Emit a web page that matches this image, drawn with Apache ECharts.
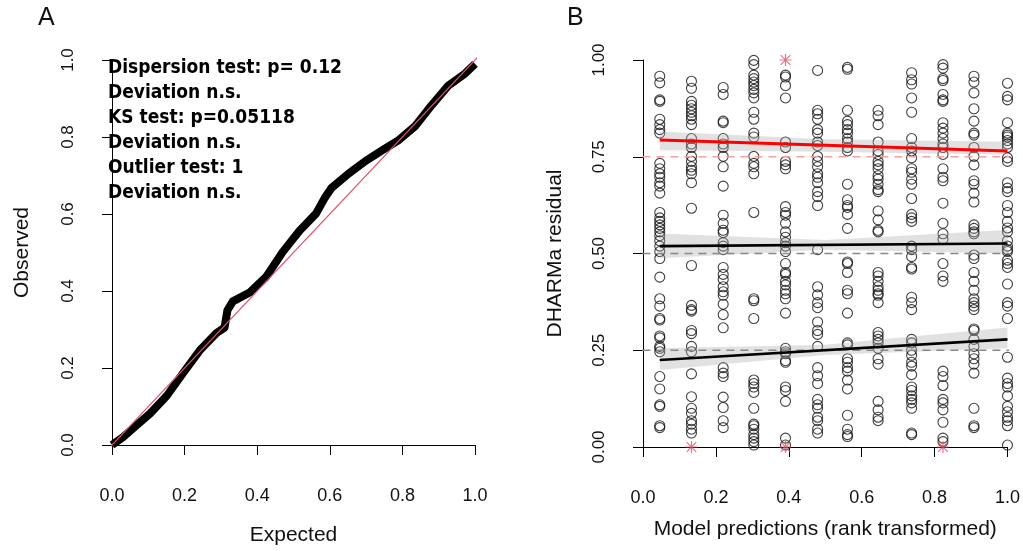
<!DOCTYPE html>
<html>
<head>
<meta charset="utf-8">
<title>DHARMa residual diagnostics</title>
<script src="https://cdn.jsdelivr.net/npm/echarts@6/dist/echarts.min.js"></script>
<style>
  html, body { margin: 0; padding: 0; background: #fff; }
  #main { width: 1023px; height: 551px; }
</style>
</head>
<body>
<div id="main"></div>
<script>
// ---- panel A: QQ plot ----
const qqExpected = [0.0, 0.03, 0.059, 0.105, 0.151, 0.196, 0.242, 0.288, 0.31, 0.318, 0.333, 0.379, 0.425, 0.47, 0.516, 0.562, 0.585, 0.605, 0.653, 0.699, 0.744, 0.79, 0.836, 0.881, 0.927, 0.973, 1.0]
const qqObserved = [0.0, 0.02, 0.044, 0.082, 0.128, 0.187, 0.246, 0.291, 0.305, 0.35, 0.373, 0.396, 0.437, 0.501, 0.556, 0.601, 0.64, 0.668, 0.706, 0.738, 0.765, 0.792, 0.829, 0.883, 0.934, 0.965, 0.99]
const qqTicks = [0, 0.2, 0.4, 0.6, 0.8, 1.0]
const statLines = ['Dispersion test: p= 0.12', 'Deviation n.s.', 'KS test: p=0.05118', 'Deviation n.s.', 'Outlier test: 1', 'Deviation n.s.']

// ---- panel B: residuals vs rank transformed predictions ----
const rankX = [0.046, 0.133, 0.220, 0.304, 0.391, 0.479, 0.561, 0.645, 0.737, 0.823, 0.908, 1.0]
const res01 = [0.958, 0.941, 0.897, 0.893, 0.847, 0.833, 0.820, 0.811, 0.733, 0.719, 0.706, 0.697, 0.683, 0.674, 0.656, 0.606, 0.592, 0.583, 0.574, 0.565, 0.556, 0.546, 0.533, 0.519, 0.505, 0.487, 0.439, 0.383, 0.364, 0.332, 0.328, 0.287, 0.282, 0.260, 0.255, 0.246, 0.182, 0.150, 0.109, 0.105, 0.055, 0.050]
const res02 = [0.945, 0.927, 0.893, 0.883, 0.874, 0.865, 0.856, 0.847, 0.833, 0.797, 0.783, 0.774, 0.751, 0.738, 0.724, 0.715, 0.706, 0.683, 0.617, 0.469, 0.366, 0.355, 0.351, 0.301, 0.293, 0.260, 0.246, 0.189, 0.130, 0.100, 0.087, 0.068, 0.059, 0.046, 0.036]
const res03 = [0.929, 0.911, 0.842, 0.838, 0.797, 0.783, 0.774, 0.751, 0.724, 0.674, 0.599, 0.578, 0.560, 0.554, 0.528, 0.519, 0.510, 0.464, 0.446, 0.433, 0.414, 0.401, 0.392, 0.369, 0.342, 0.308, 0.205, 0.191, 0.182, 0.129, 0.102, 0.068, 0.050]
const res04 = [0.999, 0.988, 0.961, 0.952, 0.943, 0.934, 0.924, 0.915, 0.902, 0.865, 0.847, 0.811, 0.801, 0.751, 0.733, 0.724, 0.706, 0.606, 0.383, 0.378, 0.332, 0.173, 0.164, 0.155, 0.141, 0.100, 0.059, 0.055, 0.046, 0.032, 0.023, 0.014, 0.005]
const res05 = [0.961, 0.956, 0.934, 0.902, 0.788, 0.774, 0.738, 0.729, 0.719, 0.621, 0.606, 0.599, 0.578, 0.556, 0.542, 0.528, 0.519, 0.505, 0.474, 0.451, 0.446, 0.428, 0.419, 0.405, 0.396, 0.383, 0.346, 0.255, 0.246, 0.241, 0.223, 0.219, 0.155, 0.146, 0.118, 0.023, 0.005]
const res06 = [0.973, 0.870, 0.861, 0.847, 0.820, 0.811, 0.788, 0.779, 0.751, 0.738, 0.724, 0.706, 0.697, 0.683, 0.660, 0.647, 0.624, 0.510, 0.414, 0.393, 0.373, 0.360, 0.323, 0.301, 0.291, 0.260, 0.205, 0.184, 0.164, 0.123, 0.109, 0.100, 0.077, 0.068, 0.046, 0.036]
const res07 = [0.981, 0.976, 0.870, 0.842, 0.833, 0.820, 0.811, 0.797, 0.788, 0.774, 0.765, 0.679, 0.639, 0.624, 0.619, 0.601, 0.565, 0.478, 0.474, 0.451, 0.405, 0.396, 0.346, 0.269, 0.264, 0.228, 0.219, 0.205, 0.196, 0.173, 0.150, 0.082, 0.046, 0.032, 0.027]
const res08 = [0.870, 0.856, 0.833, 0.788, 0.765, 0.756, 0.738, 0.729, 0.719, 0.701, 0.692, 0.679, 0.665, 0.660, 0.610, 0.587, 0.560, 0.556, 0.451, 0.442, 0.428, 0.414, 0.405, 0.396, 0.392, 0.373, 0.296, 0.287, 0.278, 0.269, 0.255, 0.228, 0.214, 0.118, 0.096, 0.077, 0.068]
const res09 = [0.967, 0.949, 0.938, 0.902, 0.865, 0.797, 0.774, 0.765, 0.747, 0.719, 0.710, 0.692, 0.679, 0.642, 0.601, 0.592, 0.583, 0.519, 0.510, 0.492, 0.464, 0.460, 0.387, 0.373, 0.355, 0.278, 0.269, 0.250, 0.237, 0.219, 0.209, 0.187, 0.155, 0.146, 0.132, 0.123, 0.114, 0.100, 0.036, 0.032]
const res10 = [0.988, 0.979, 0.952, 0.947, 0.911, 0.897, 0.893, 0.838, 0.824, 0.811, 0.797, 0.783, 0.774, 0.756, 0.719, 0.697, 0.688, 0.630, 0.578, 0.551, 0.537, 0.474, 0.442, 0.428, 0.196, 0.182, 0.159, 0.123, 0.114, 0.096, 0.064, 0.023, 0.014]
const res11 = [0.958, 0.943, 0.915, 0.874, 0.842, 0.811, 0.806, 0.774, 0.751, 0.729, 0.688, 0.679, 0.656, 0.633, 0.574, 0.565, 0.556, 0.551, 0.496, 0.487, 0.451, 0.428, 0.405, 0.383, 0.373, 0.364, 0.355, 0.305, 0.301, 0.278, 0.260, 0.241, 0.228, 0.214, 0.191, 0.100, 0.055, 0.050]
const res12 = [0.940, 0.906, 0.897, 0.838, 0.811, 0.806, 0.801, 0.792, 0.783, 0.774, 0.747, 0.738, 0.683, 0.669, 0.660, 0.624, 0.606, 0.583, 0.566, 0.556, 0.533, 0.519, 0.510, 0.505, 0.483, 0.474, 0.464, 0.421, 0.373, 0.364, 0.332, 0.232, 0.178, 0.164, 0.155, 0.132, 0.105, 0.091, 0.077, 0.068, 0.055, 0.005]
const residCols = [res01, res02, res03, res04, res05, res06, res07, res08, res09, res10, res11, res12]
const outlierX = [0.133, 0.391, 0.391, 0.823]
const outlierY = [0.0, 1.0, 0.0, 0.0]

// quantile regression fits and their bands
const quantiles = [0.25, 0.5, 0.75]
const fitX = [0.046, 1.0]
const fit25 = [0.225, 0.278]
const fit50 = [0.519, 0.526]
const fit75 = [0.793, 0.765]
const bandX = [0.046, 0.5, 1.0]
const band25Lo = [0.199, 0.238, 0.255]
const band25Hi = [0.255, 0.264, 0.309]
const band50Lo = [0.488, 0.510, 0.500]
const band50Hi = [0.552, 0.535, 0.561]
const band75Lo = [0.767, 0.763, 0.755]
const band75Hi = [0.815, 0.795, 0.789]
const residTicks = [0, 0.25, 0.5, 0.75, 1.0]
const predTicks = [0, 0.2, 0.4, 0.6, 0.8, 1.0]

// both panels share the R-ish axis look
const FONT = '"Liberation Sans", Arial, sans-serif'
const PAD = 0.04 // R's 4% range extension, used for lines that run to the plot edge

function rAxis(gridIndex, offset, ticks, digits, extra) {
    return Object.assign({
        type: 'value',
        gridIndex: gridIndex,
        min: 0,
        max: 1,
        offset: offset,
        axisLine: { show: true, lineStyle: { color: '#000', width: 1 } },
        axisTick: { show: true, length: 10, inside: false, customValues: ticks, lineStyle: { color: '#000', width: 1 } },
        axisLabel: {
            customValues: ticks,
            formatter: v => v.toFixed(digits),
            color: '#111',
            fontFamily: FONT
        },
        splitLine: { show: false },
        nameLocation: 'middle',
        nameTextStyle: { fontSize: 21, color: '#111', fontFamily: FONT }
    }, extra)
}

function band(lo, hi) {
    return {
        type: 'custom',
        xAxisIndex: 1,
        yAxisIndex: 1,
        silent: true,
        z: 3,
        data: [[0.5, 0.5]],
        renderItem: (params, api) => {
            let pts = []
            bandX.forEach((x, i) => pts.push(api.coord([x, hi[i]])))
            for (let i = bandX.length - 1; i >= 0; i--) pts.push(api.coord([bandX[i], lo[i]]))
            return { type: 'polygon', shape: { points: pts }, style: { fill: 'rgba(170,170,170,0.35)' } }
        }
    }
}

function hline(y, color) {
    return {
        type: 'line',
        xAxisIndex: 1,
        yAxisIndex: 1,
        data: [[-PAD, y], [1 + PAD, y]],
        symbol: 'none',
        clip: false,
        silent: true,
        z: 4,
        lineStyle: { color: color, width: 1.4, type: [8, 6] }
    }
}

function fitLine(vals, color, width) {
    return {
        type: 'line',
        xAxisIndex: 1,
        yAxisIndex: 1,
        data: fitX.map((x, i) => [x, vals[i]]),
        symbol: 'none',
        silent: true,
        z: 6,
        lineStyle: { color: color, width: width }
    }
}

let residPoints = []
residCols.forEach((col, i) => col.forEach(v => residPoints.push([rankX[i], v])))

const starPath = 'path://M4.5,0h1v10h-1z M0,4.5h10v1h-10z M0.65,1.35L1.35,0.65L9.35,8.65L8.65,9.35z M8.65,0.65L9.35,1.35L1.35,9.35L0.65,8.65z'

let myChart = echarts.init(document.getElementById('main'))
myChart.setOption({
    animation: false,
    backgroundColor: '#fff',
    grid: [
        { left: 112, right: 548, top: 60, bottom: 104 },
        { left: 643, right: 15, top: 60, bottom: 104 }
    ],
    xAxis: [
        rAxis(0, 16, qqTicks, 1, { name: 'Expected', nameGap: 64, axisLabel: { customValues: qqTicks, formatter: v => v.toFixed(1), fontSize: 18, margin: 26, color: '#111', fontFamily: FONT } }),
        rAxis(1, 16, predTicks, 1, { name: 'Model predictions (rank transformed)', nameGap: 56, axisLabel: { customValues: predTicks, formatter: v => v.toFixed(1), fontSize: 18, margin: 26, color: '#111', fontFamily: FONT } })
    ],
    yAxis: [
        rAxis(0, 15, qqTicks, 1, { name: 'Observed', nameGap: 64, axisLabel: { customValues: qqTicks, formatter: v => v.toFixed(1), fontSize: 17, margin: 20, rotate: 90, color: '#111', fontFamily: FONT } }),
        rAxis(1, 15, residTicks, 2, { name: 'DHARMa residual', nameGap: 62, axisLabel: { customValues: residTicks, formatter: v => v.toFixed(2), fontSize: 17, margin: 20, rotate: 90, color: '#111', fontFamily: FONT } })
    ],
    graphic: [
        { type: 'text', left: 38, top: 6, style: { text: 'A', font: '25px ' + FONT, fill: '#111' } },
        { type: 'text', left: 567, top: 6, style: { text: 'B', font: '25px ' + FONT, fill: '#111' } },
        { type: 'text', left: 108, top: 56, z: 10, style: { text: statLines.join('\n'), font: 'bold 19px "DejaVu Sans Condensed", "DejaVu Sans", sans-serif', lineHeight: 25, fill: '#000' } }
    ],
    series: [
        // A: expected vs observed, thick band of overlapping triangles
        {
            type: 'line',
            xAxisIndex: 0,
            yAxisIndex: 0,
            data: qqExpected.map((x, i) => [x, qqObserved[i]]),
            symbol: 'none',
            clip: false,
            z: 2,
            lineStyle: { color: '#000', width: 8, join: 'round' }
        },
        {
            type: 'line',
            xAxisIndex: 0,
            yAxisIndex: 0,
            data: [[-PAD, -PAD], [1 + PAD, 1 + PAD]],
            symbol: 'none',
            clip: false,
            z: 3,
            lineStyle: { color: '#DF536B', width: 1.2 }
        },
        // B: residual scatter
        {
            type: 'scatter',
            xAxisIndex: 1,
            yAxisIndex: 1,
            data: residPoints,
            symbol: 'circle',
            symbolSize: 10,
            z: 2,
            itemStyle: { color: 'rgba(0,0,0,0)', borderColor: '#111', borderWidth: 1.1 }
        },
        {
            type: 'scatter',
            xAxisIndex: 1,
            yAxisIndex: 1,
            data: outlierX.map((x, i) => [x, outlierY[i]]),
            symbol: starPath,
            symbolSize: 12,
            clip: false,
            z: 5,
            itemStyle: { color: '#DF536B' }
        },
        band(band25Lo, band25Hi),
        band(band50Lo, band50Hi),
        band(band75Lo, band75Hi),
        hline(quantiles[0], '#888'),
        hline(quantiles[1], '#888'),
        hline(quantiles[2], '#F8A0A0'),
        fitLine(fit25, '#000', 2.6),
        fitLine(fit50, '#000', 2.6),
        fitLine(fit75, '#FF0000', 3)
    ]
})
</script>
</body>
</html>
